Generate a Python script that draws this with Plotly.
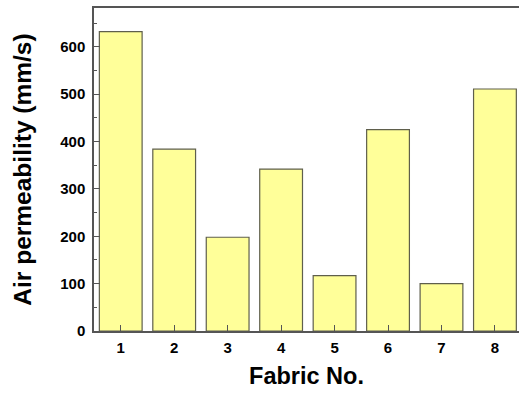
import plotly.graph_objects as go

fabrics = ["1", "2", "3", "4", "5", "6", "7", "8"]
fabric_pos = [1, 2, 3, 4, 5, 6, 7, 8]
air_perm = [632, 384, 198, 342, 117, 425, 100, 511]
y_ticks = [0, 100, 200, 300, 400, 500, 600]

fig = go.Figure(go.Bar(
    x=fabric_pos, y=air_perm, width=0.8,
    marker=dict(color="#FFFF99", line=dict(color="#5f5f4c", width=1.2)),
))

font_fam = "Liberation Sans, Arial, sans-serif"
fig.update_layout(
    width=519, height=394,
    margin=dict(l=94, r=0, t=8, b=62.5),
    paper_bgcolor="white", plot_bgcolor="white",
    showlegend=False,
    font=dict(family=font_fam, color="black"),
    xaxis=dict(
        range=[0.5, 8.45], tickvals=fabric_pos, ticktext=fabrics,
        ticks="inside", ticklen=6, tickwidth=1.2, tickcolor="#555555",
        showline=True, linecolor="#555555", linewidth=1.5, mirror=True,
        showgrid=False, zeroline=False, ticklabelstandoff=2,
        tickfont=dict(size=15, family=font_fam, weight="bold"),
        title=dict(text="<b>Fabric No.</b>", font=dict(size=23.5), standoff=13),
    ),
    yaxis=dict(
        range=[0, 682], tickvals=y_ticks,
        ticks="inside", ticklen=6, tickwidth=1.2, tickcolor="#555555",
        minor=dict(dtick=50, ticks="inside", ticklen=3, tickcolor="#555555", tickwidth=1.2),
        showline=True, linecolor="#555555", linewidth=1.5, mirror=False,
        showgrid=False, zeroline=False, ticklabelstandoff=4,
        tickfont=dict(size=15, family=font_fam, weight="bold"),
        title=dict(text="<b>Air permeability (mm/s)</b>", font=dict(size=24.5), standoff=22),
    ),
)

fig.write_html(
    "out.html",
    config={"displayModeBar": False},
    post_script=(
        "document.body.style.margin='0';"
        "document.body.style.overflow='hidden';"
        "document.documentElement.style.overflow='hidden';"
    ),
)
